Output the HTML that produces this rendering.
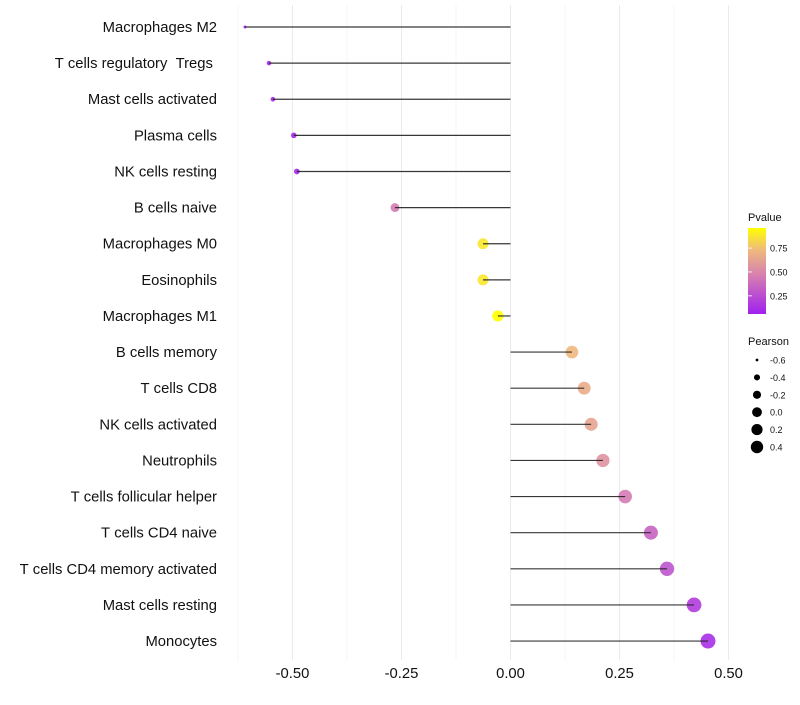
<!DOCTYPE html>
<html><head><meta charset="utf-8"><style>
body{margin:0;background:#fff;font-family:"Liberation Sans",sans-serif}
text{white-space:pre}
</style></head><body>
<svg id="chart" width="800" height="700" xmlns="http://www.w3.org/2000/svg" font-family="Liberation Sans, sans-serif">
<defs><linearGradient id="pg" x1="0" y1="1" x2="0" y2="0">
<stop offset="0" stop-color="#a020f0"/><stop offset="0.45" stop-color="#d67fb0"/><stop offset="0.75" stop-color="#efbb7c"/><stop offset="1" stop-color="#ffff00"/></linearGradient></defs>
<g id="grid"></g><g id="marks"></g><g id="axes"></g>
<g>
<text x="748" y="221" font-size="11" fill="#111">Pvalue</text>
<rect x="748" y="228" width="18" height="86" fill="url(#pg)"/>
<g id="cbticks"></g>
</g>
<g id="sizeleg">
<text x="748" y="345" font-size="11" fill="#111">Pearson</text>
</g>
</svg>
<script>
const categories=["Macrophages M2","T cells regulatory  Tregs ","Mast cells activated","Plasma cells","NK cells resting","B cells naive","Macrophages M0","Eosinophils","Macrophages M1","B cells memory","T cells CD8","NK cells activated","Neutrophils","T cells follicular helper","T cells CD4 naive","T cells CD4 memory activated","Mast cells resting","Monocytes"];
const pearson=[-0.609,-0.554,-0.545,-0.497,-0.49,-0.265,-0.063,-0.063,-0.029,0.141,0.169,0.185,0.212,0.263,0.322,0.359,0.421,0.453];
const pvalue=[0.07,0.08,0.08,0.09,0.09,0.45,0.88,0.88,0.96,0.72,0.67,0.63,0.55,0.45,0.35,0.28,0.18,0.13];
const xTicks=[-0.5,-0.25,0,0.25,0.5];
const xTickLabels=["-0.50","-0.25","0.00","0.25","0.50"];
const sizeLegend=[-0.6,-0.4,-0.2,0.0,0.2,0.4];
const sizeLegendLabels=["-0.6","-0.4","-0.2","0.0","0.2","0.4"];
const cbTicks=[0.25,0.5,0.75];
const cbTickLabels=["0.25","0.50","0.75"];
const NS="http://www.w3.org/2000/svg";
const X=v=>510.5+v*436;
const Y=i=>27+i*36.12;
const pmin=0.06,pmax=0.96;
const stops=[[0,[160,32,240]],[0.45,[214,127,176]],[0.75,[239,187,124]],[1,[255,255,0]]];
function col(p){let t=Math.max(0,Math.min(1,(p-pmin)/(pmax-pmin)));for(let k=1;k<stops.length;k++){if(t<=stops[k][0]){const a=stops[k-1],b=stops[k],f=(t-a[0])/(b[0]-a[0]);return"rgb("+a[1].map((c,j)=>Math.round(c+(b[1][j]-c)*f)).join(",")+")";}}return"rgb(255,255,0)";}
const smin=-0.61,smax=0.453;
const R=v=>{const f=Math.max(0,(v-smin)/(smax-smin));return Math.sqrt(2.2+f*(56-2.2));};
function el(t,a,p){const e=document.createElementNS(NS,t);for(const k in a)e.setAttribute(k,a[k]);p.appendChild(e);return e;}
const grid=document.getElementById("grid"),marks=document.getElementById("marks"),axes=document.getElementById("axes");
[-0.625,-0.375,-0.125,0.125,0.375].forEach(v=>{const l=el("line",{x1:X(v),x2:X(v),y1:5,y2:660,stroke:"#f0f0f0","stroke-width":0.6},grid);

});
xTicks.forEach((v,i)=>{const l=el("line",{x1:X(v),x2:X(v),y1:5,y2:660,stroke:"#ebebeb","stroke-width":1},grid);


const t=el("text",{x:X(v),y:678,"font-size":14.8,"text-anchor":"middle",fill:"#111"},axes);t.textContent=xTickLabels[i];

});
categories.forEach((c,i)=>{const y=Y(i);
const d=el("circle",{cx:X(pearson[i]),cy:y,r:R(pearson[i]),fill:col(pvalue[i]),"fill-opacity":0.9},marks);


const s=el("line",{x1:X(0),x2:X(pearson[i]),y1:y,y2:y,stroke:"#222","stroke-width":1.2,opacity:0.9},marks);


const t=el("text",{x:217,y:y+5,"font-size":14.8,"text-anchor":"end",fill:"#111"},axes);t.textContent=c.replace(/ /g,"\u00a0");

});
const cbt=document.getElementById("cbticks");
cbTicks.forEach((v,i)=>{const y=314-(v-pmin)/(pmax-pmin)*86;
const l=el("line",{x1:748,x2:752,y1:y,y2:y,stroke:"#fff","stroke-width":0.8},cbt);


const t=el("text",{x:770,y:y+3.5,"font-size":9,fill:"#111"},cbt);t.textContent=cbTickLabels[i];

});
const sl=document.getElementById("sizeleg");
sizeLegend.forEach((v,i)=>{const y=360+i*17.4;
const d=el("circle",{cx:757,cy:y,r:R(v)*0.85,fill:"#000"},sl);


const t=el("text",{x:770,y:y+3.5,"font-size":9,fill:"#111"},sl);t.textContent=sizeLegendLabels[i];

});
</script>
</body></html>
